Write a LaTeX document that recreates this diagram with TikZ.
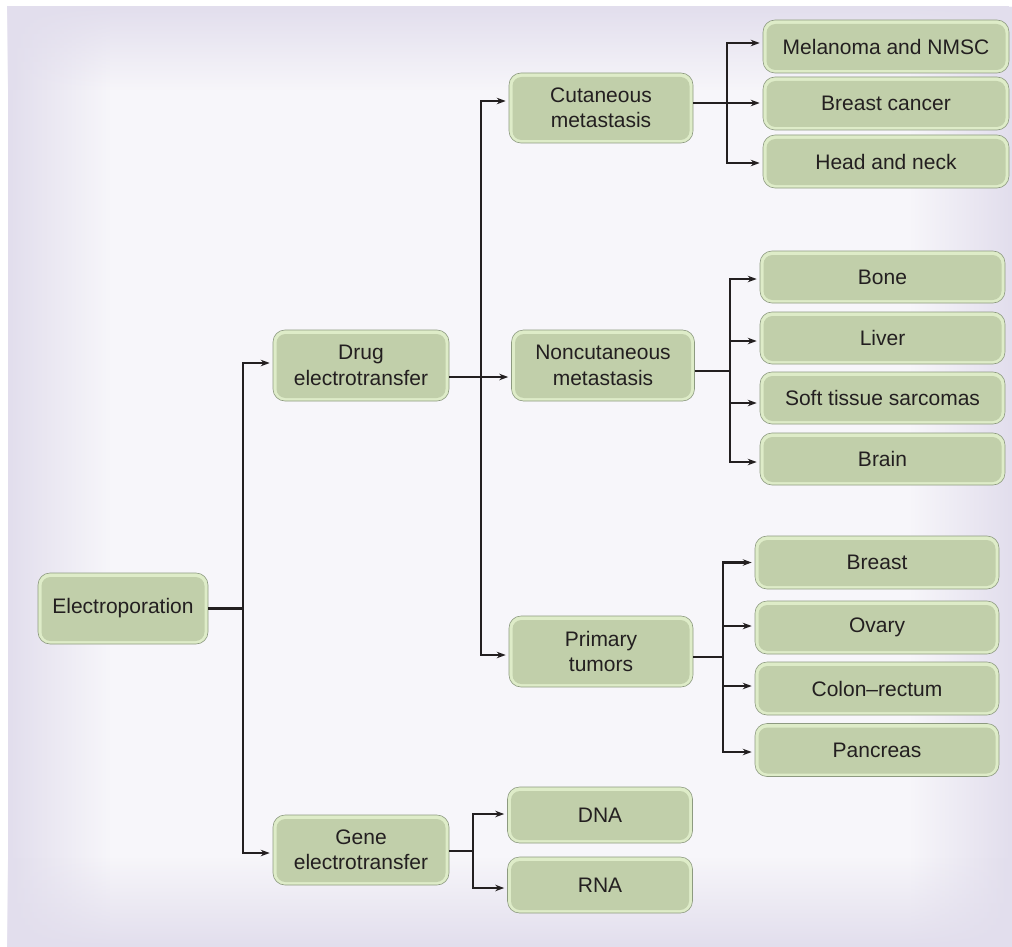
\documentclass[tikz,border=0pt]{standalone}
\usepackage{fontspec}
\setmainfont{Liberation Sans}
\usetikzlibrary{arrows.meta,fadings}
\definecolor{lav}{HTML}{E2DEED}
\definecolor{bgbase}{HTML}{F7F6FA}
\definecolor{rim}{HTML}{DEECC8}
\definecolor{body}{HTML}{C1CFAA}
\definecolor{outl}{HTML}{8D9A80}
\definecolor{ink}{HTML}{231F20}
\tikzfading[name=fadeR, left color=transparent!0, right color=transparent!100]
\tikzfading[name=fadeL, left color=transparent!100, right color=transparent!0]
\tikzfading[name=fadeU, bottom color=transparent!0, top color=transparent!100]
\tikzfading[name=fadeD, bottom color=transparent!100, top color=transparent!0]
\tikzset{
  box/.style={rectangle, rounded corners=12pt, draw=outl, line width=0.6pt, fill=rim,
    text=ink, font=\fontsize{21}{25.5}\selectfont, align=center, inner sep=0pt,
    path picture={\fill[body, rounded corners=9pt]
      ([shift={(3.5pt,3pt)}]path picture bounding box.south west) rectangle
      ([shift={(-3.5pt,-4pt)}]path picture bounding box.north east);}},
  bigbox/.style={box, minimum height=71pt},
  leafbox/.style={box, minimum width=246pt, minimum height=53pt},
  ln/.style={draw=ink, line width=2.2pt},
  arr/.style={ln, -{Stealth[length=9pt,width=6.5pt]}, shorten >=3pt},
}
\begin{document}
\begin{tikzpicture}[x=1pt,y=-1pt]
\useasboundingbox (0,0) rectangle (1012,947);
% background panel
\fill[bgbase] (8,6) rectangle (1012,947);
\fill[lav, path fading=fadeR] (8,6) rectangle (110,947);
\fill[lav, path fading=fadeL] (910,6) rectangle (1012,947);
\fill[lav, path fading=fadeD] (8,6) rectangle (1012,90);
\fill[lav, path fading=fadeU] (8,857) rectangle (1012,947);

% nodes
\node[bigbox, minimum width=170pt] (elec) at (123,608.5) {Electroporation};
\node[bigbox, minimum width=176pt] (drug) at (361,365.5) {Drug\\electrotransfer};
\node[bigbox, minimum width=176pt, minimum height=70pt] (gene) at (361,850) {Gene\\electrotransfer};
\node[bigbox, minimum width=184pt, minimum height=70pt] (cut) at (601,108) {Cutaneous\\metastasis};
\node[bigbox, minimum width=183pt] (nonc) at (603,365.5) {Noncutaneous\\metastasis};
\node[bigbox, minimum width=184pt] (prim) at (601,651.5) {Primary\\tumors};
\node[box, minimum width=185pt, minimum height=56pt] (dna) at (600,815) {DNA};
\node[box, minimum width=185pt, minimum height=56pt] (rna) at (600,885) {RNA};

\node[leafbox] (mel) at (886,46.5) {Melanoma and NMSC};
\node[leafbox] (bc) at (886,103.5) {Breast cancer};
\node[leafbox] (hn) at (886,161.5) {Head and neck};

\node[leafbox, minimum width=245pt, minimum height=52pt] (bone) at (882.5,277) {Bone};
\node[leafbox, minimum width=245pt, minimum height=52pt] (liver) at (882.5,338) {Liver};
\node[leafbox, minimum width=245pt, minimum height=52pt] (soft) at (882.5,398) {Soft tissue sarcomas};
\node[leafbox, minimum width=245pt, minimum height=52pt] (brain) at (882.5,459) {Brain};

\node[leafbox, minimum width=244pt] (breast) at (877,562.5) {Breast};
\node[leafbox, minimum width=244pt] (ovary) at (877,627.5) {Ovary};
\node[leafbox, minimum width=244pt] (colon) at (877,688.5) {Colon--rectum};
\node[leafbox, minimum width=244pt] (panc) at (877,750) {Pancreas};

% junctions
\coordinate (j0) at (243,608.5);
\coordinate (j1) at (481,377);
\coordinate (j2) at (727,103);
\coordinate (j3) at (730,371);
\coordinate (j4) at (723,657);
\coordinate (j5) at (473,851);

% connectors
\draw[ln] (elec.east) -- (j0);
\draw[arr] (j0) |- ([yshift=2.5pt]drug.west);
\draw[arr] (j0) |- ([yshift=-3pt]gene.west);

\draw[ln] ([yshift=-11.5pt]drug.east) -- (j1);
\draw[arr] (j1) -- ([yshift=-11.5pt]nonc.west);
\draw[arr] (j1) |- ([yshift=7pt]cut.west);
\draw[arr] (j1) |- ([yshift=-3.5pt]prim.west);

\draw[ln] ([yshift=5pt]cut.east) -- (j2);
\draw[arr] (j2) |- ([yshift=3.5pt]mel.west);
\draw[arr] (j2) -- (bc.west |- j2);
\draw[arr] (j2) |- ([yshift=-1.5pt]hn.west);

\draw[ln] ([yshift=-5.5pt]nonc.east) -- (j3);
\draw[arr] (j3) |- ([yshift=-2pt]bone.west);
\draw[arr] (j3) |- ([yshift=-3pt]liver.west);
\draw[arr] (j3) |- ([yshift=-5pt]soft.west);
\draw[arr] (j3) |- ([yshift=-3pt]brain.west);

\draw[ln] ([yshift=-5.5pt]prim.east) -- (j4);
\draw[arr] (j4) |- (breast.west);
\draw[arr] (j4) |- ([yshift=1.5pt]ovary.west);
\draw[arr] (j4) |- ([yshift=2.5pt]colon.west);
\draw[arr] (j4) |- ([yshift=-2pt]panc.west);

\draw[ln] ([yshift=-1pt]gene.east) -- (j5);
\draw[arr] (j5) |- ([yshift=1pt]dna.west);
\draw[arr] (j5) |- ([yshift=-3pt]rna.west);
\end{tikzpicture}
\end{document}
